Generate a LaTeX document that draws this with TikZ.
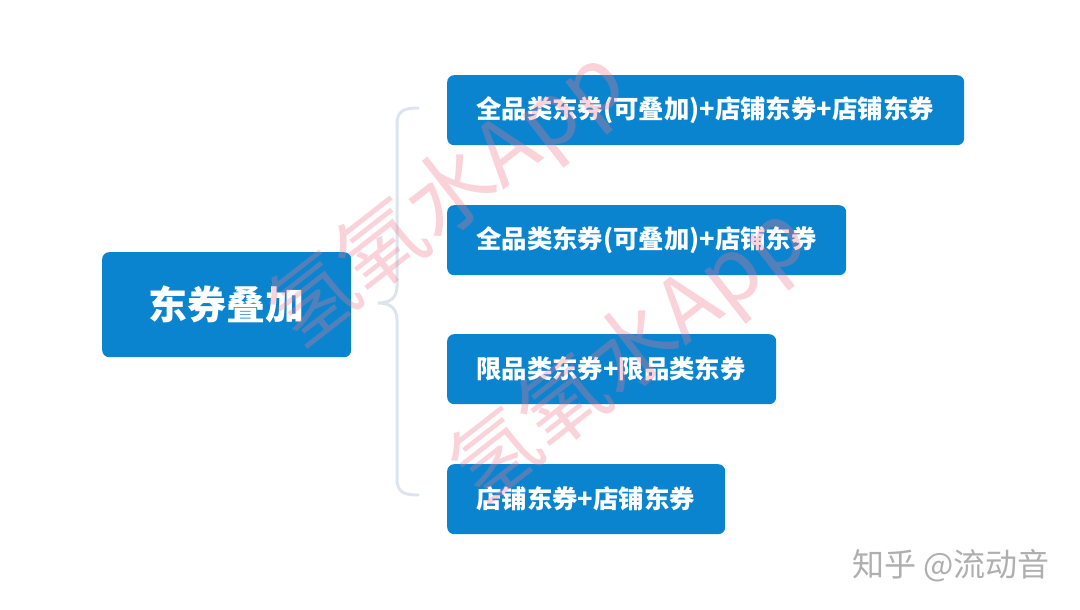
\documentclass[tikz,border=0pt]{standalone}
\usepackage{fontspec}
\newfontfamily\cjk{Noto Sans CJK SC}
\definecolor{boxblue}{RGB}{11,132,208}
\definecolor{bracecol}{RGB}{220,229,238}
\definecolor{wmpink}{RGB}{240,120,140}
\definecolor{footgray}{RGB}{175,175,175}
\tikzset{
  mainbox/.style={fill=boxblue, rounded corners=7pt, text=white, font=\cjk\bfseries\fontsize{39}{44}\selectfont, minimum width=249pt, minimum height=105pt, inner sep=0pt, anchor=north west},
  itembox/.style={fill=boxblue, rounded corners=7pt, text=white, font=\cjk\bfseries\fontsize{25.4}{30}\selectfont, minimum height=70pt, inner xsep=29pt, inner ysep=0pt, align=left, anchor=north west},
  bracel/.style={draw=bracecol, line width=3pt, line cap=round},
  watermark/.style={text=wmpink, opacity=0.32, font=\cjk\fontsize{87}{95}\selectfont, rotate=38, inner sep=0pt},
  footer/.style={text=footgray, font=\cjk\fontsize{32}{36}\selectfont, inner sep=0pt}
}
\begin{document}
\begin{tikzpicture}[x=1pt,y=-1pt]
\useasboundingbox (0,0) rectangle (1080,610);
\fill[white] (0,0) rectangle (1080,610);
\node[mainbox] (main) at (102,252) {东券叠加};
\node[itembox, text width=459pt] (b1) at (447,75) {全品类东券(可叠加)+店铺东券+店铺东券};
\node[itembox, text width=341pt] (b2) at (447,205) {全品类东券(可叠加)+店铺东券};
\node[itembox, text width=271pt] (b3) at (447,334) {限品类东券+限品类东券};
\node[itembox, text width=220pt] (b4) at (447,464) {店铺东券+店铺东券};
\coordinate (btop) at (418,108);
\coordinate (bmid) at (378,303);
\coordinate (bbot) at (418,495);
\draw[bracel] (btop) .. controls (402,108) and (397,112) .. (397,125)
  -- (397,286) .. controls (397,298) and (390,303) .. (bmid)
  .. controls (390,303) and (397,308) .. (397,320)
  -- (397,478) .. controls (397,491) and (402,495) .. (bbot);
\node[watermark] (wm1) at (448,200) {氢氧水App};
\node[watermark] (wm2) at (630,356) {氢氧水App};
\node[footer] (foot) at (951,566) {知乎 @流动音};
\end{tikzpicture}
\end{document}
